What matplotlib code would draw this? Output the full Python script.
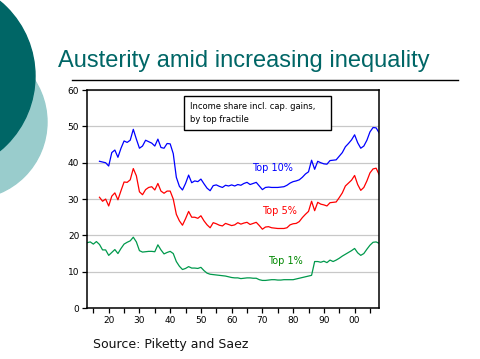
import matplotlib
matplotlib.use("Agg")
import matplotlib.pyplot as plt
from matplotlib.patches import Circle, Rectangle
from matplotlib.lines import Line2D

# income share by top fractile
years_top1 = list(range(1913, 2009))
years_top = list(range(1917, 2009))

top10 = [40.4, 40.2, 40.0, 39.1, 42.8, 43.5, 41.5, 44.0, 46.0, 45.6,
         46.2, 49.2, 46.5, 44.0, 44.6, 46.2, 45.8, 45.4, 44.6, 46.5,
         44.2, 44.0, 45.3, 45.2, 42.5, 36.0, 33.5, 32.5, 34.3, 36.6,
         34.5, 35.0, 34.8, 35.5, 34.2, 33.0, 32.3, 33.7, 33.9, 33.5,
         33.2, 33.8, 33.6, 33.9, 33.6, 34.0, 33.8, 34.3, 34.6, 34.0,
         34.3, 34.6, 33.6, 32.6, 33.2, 33.3, 33.2, 33.2, 33.2, 33.3,
         33.4, 33.8, 34.4, 34.8, 35.0, 35.3, 36.0, 36.9, 37.5, 40.7,
         38.2, 40.4, 40.0, 39.7, 39.6, 40.6, 40.7, 40.8, 41.8, 42.8,
         44.4, 45.3, 46.3, 47.7, 45.5, 44.0, 44.6, 46.2, 48.5, 49.7,
         49.6, 48.2]

top5 = [30.5, 29.4, 30.0, 28.1, 30.8, 31.7, 29.8, 32.3, 34.7, 34.6,
        35.3, 38.4, 36.4, 32.0, 31.2, 32.6, 33.2, 33.4, 32.5, 34.3,
        32.2, 31.6, 32.2, 32.2, 30.0, 25.8, 24.0, 22.8, 24.6, 26.6,
        25.0, 25.0, 24.7, 25.4, 24.0, 22.9, 22.1, 23.5, 23.2, 22.8,
        22.6, 23.3, 23.0, 22.7, 22.9, 23.5, 23.1, 23.4, 23.6, 23.0,
        23.3, 23.6, 22.7, 21.7, 22.3, 22.4, 22.1, 22.0, 21.9, 21.9,
        21.9, 22.1, 22.9, 23.2, 23.3, 23.8, 24.9, 25.8, 26.6, 29.4,
        26.8, 29.1, 28.6, 28.4, 28.1, 29.0, 29.1, 29.2, 30.4, 31.7,
        33.6, 34.4, 35.2, 36.5, 34.0, 32.4, 33.2, 35.0, 37.2, 38.3,
        38.5, 36.7]

top1 = [18.0, 18.2, 17.6, 18.3, 17.5, 16.0, 16.0, 14.5, 15.3, 16.1,
        15.0, 16.4, 17.6, 18.1, 18.5, 19.5, 18.2, 15.8, 15.4, 15.5,
        15.6, 15.6, 15.5, 17.4, 16.0, 14.9, 15.3, 15.6, 15.0, 12.8,
        11.5, 10.6, 10.9, 11.4, 11.0, 11.0, 10.9, 11.2, 10.3, 9.6,
        9.3, 9.2, 9.1, 9.0, 8.9, 8.8, 8.6, 8.4, 8.3, 8.3, 8.1, 8.2,
        8.3, 8.3, 8.2, 8.2, 7.8, 7.6, 7.6, 7.7, 7.8, 7.8, 7.7, 7.7,
        7.8, 7.8, 7.8, 7.8, 8.0, 8.2, 8.4, 8.6, 8.8, 9.0, 12.8, 12.8,
        12.6, 12.9, 12.5, 13.2, 12.8, 13.2, 13.7, 14.3, 14.8, 15.3,
        15.8, 16.4, 15.2, 14.5, 15.0, 16.2, 17.3, 18.1, 18.2, 17.8]

series_names = ["Top 10%", "Top 5%", "Top 1%"]
yticks = [0, 10, 20, 30, 40, 50, 60]
xtick_years = [1920, 1930, 1940, 1950, 1960, 1970, 1980, 1990, 2000]
xtick_labels = ["20", "30", "40", "50", "60", "70", "80", "90", "00"]

teal = "#006666"

fig = plt.figure(figsize=(4.8, 3.59), dpi=100)
fig.patch.set_facecolor("white")

# decorative circles on the left edge
bg = fig.add_axes([0, 0, 1, 1])
bg.set_xlim(0, 480)
bg.set_ylim(359, 0)
bg.axis("off")
bg.add_patch(Circle((-30, 122), 77, color="#99cccc", zorder=1))
bg.add_patch(Circle((-62, 76), 97, color=teal, zorder=2))
bg.add_line(Line2D([72, 458], [79.5, 79.5], color="black", lw=1.0))

fig.text(0.121, 0.814, "Austerity amid increasing inequality",
         fontsize=17, color=teal, family="Liberation Sans")
fig.text(0.194, 0.032, "Source: Piketty and Saez", fontsize=9,
         color="#111111", family="DejaVu Sans")

ax = fig.add_axes([0.181, 0.142, 0.609, 0.607])
ax.plot(years_top, top10, color="#0000ff", lw=0.9)
ax.plot(years_top, top5, color="#ff0000", lw=0.9)
ax.plot(years_top1, top1, color="#00994c", lw=0.9)

ax.set_xlim(1912.9, 2008.0)
ax.set_ylim(0, 60)
ax.set_yticks(yticks)
ax.set_xticks(xtick_years)
ax.set_xticklabels(xtick_labels)
ax.set_xticks(range(1915, 2008, 10), minor=True)
ax.grid(axis="y", color="#c8c8c8", lw=0.9)
ax.set_axisbelow(True)
for s in ax.spines.values():
    s.set_linewidth(1.1)
ax.tick_params(axis="both", which="both", direction="out", length=3.5,
               width=0.9, labelsize=6.5, pad=2)
ax.tick_params(axis="x", which="minor", labelbottom=False)

ax.text(1966.6, 38.5, series_names[0], color="#0000ff", fontsize=7, va="center")
ax.text(1970.0, 26.7, series_names[1], color="#ff0000", fontsize=7, va="center")
ax.text(1971.9, 12.9, series_names[2], color="#008800", fontsize=7, va="center")

ax.add_patch(Rectangle((0.332, 0.817), 0.504, 0.155, transform=ax.transAxes,
                       fill=True, facecolor="white", edgecolor="black",
                       lw=1.0, zorder=5))
ax.text(0.353, 0.895, "Income share incl. cap. gains,\nby top fractile",
        transform=ax.transAxes, fontsize=6, va="center", linespacing=1.5,
        zorder=6)

fig.savefig("out.png", dpi=100)
